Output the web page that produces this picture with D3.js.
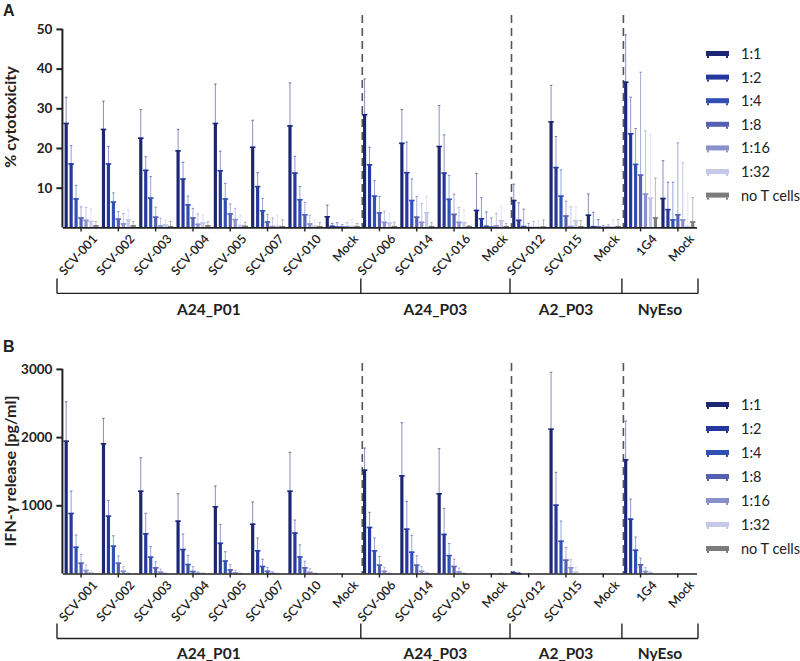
<!DOCTYPE html>
<html><head><meta charset="utf-8">
<script src="https://cdn.jsdelivr.net/npm/d3@7"></script>
<style>body{margin:0;background:#fff}svg{display:block}</style>
</head><body><svg id="c" width="800" height="661"></svg>
<script>
// ---------- data ----------
const categories = ["SCV-001","SCV-002","SCV-003","SCV-004","SCV-005","SCV-007","SCV-010","Mock_1",
  "SCV-006","SCV-014","SCV-016","Mock_2","SCV-012","SCV-015","Mock_3","1G4","Mock_4"];
const groupNames = ["A24_P01","A24_P03","A2_P03","NyEso"];
const groupSizes = [8,4,3,2];
const seriesNames = ["1:1","1:2","1:4","1:8","1:16","1:32","no T cells"];
const seriesColors = ["#1d2675","#26389e","#3150b4","#5560b2","#8a90cc","#c6c8e9","#7b7b7b"];
const cytoTicks = [10,20,30,40,50];
const ifnTicks = [1000,2000,3000];

// Panel A: % cytotoxicity (mean, SD) per series
const cyto_1_1  = [26.3,24.8,22.6,19.4,26.3,20.3,25.7,2.8,28.5,21.3,20.5,4.4,6.9,26.7,3.2,36.7,7.4];
const cyto_1_1_sd = [6.5,7.0,7.1,5.3,9.8,6.7,10.7,2.8,8.9,8.4,10.2,9.2,4.0,9.1,5.2,11.8,9.4];
const cyto_1_2  = [16.1,16.1,14.5,12.3,14.4,10.4,13.8,0.4,15.9,13.9,13.8,2.3,1.9,15.2,0.3,23.7,4.6];
const cyto_1_2_sd = [4.5,4.3,3.3,4.1,4.8,3.4,4.1,0.6,4.3,7.6,9.5,5.2,4.3,7.7,3.5,9.1,6.8];
const cyto_1_4  = [7.3,6.5,7.5,5.8,7.3,4.3,7.1,0.2,8.0,6.9,7.2,0.4,0.35,8.0,0.2,16.0,2.0];
const cyto_1_4_sd = [3.3,2.2,5.3,2.1,3.8,3.0,3.2,1.0,3.8,5.3,5.9,3.5,4.25,6.5,1.8,8.9,9.4];
const cyto_1_8  = [2.5,2.2,2.7,2.5,3.5,1.5,3.3,0.2,3.8,2.7,3.4,0.2,0.1,3.0,0.1,13.3,3.3];
const cyto_1_8_sd = [2.7,1.8,2.4,2.3,2.4,1.8,3.0,0.5,4.0,5.1,5.0,2.2,0.9,3.6,0.4,25.8,18.0];
const cyto_1_16 = [1.9,1.0,0.5,0.9,2.1,0.35,1.0,0.3,1.4,1.4,1.4,0.5,0.1,0.35,0.2,8.5,2.0];
const cyto_1_16_sd = [3.1,2.5,1.8,2.5,2.7,2.05,2.1,0.9,2.7,4.6,3.6,3.0,1.4,4.85,0.5,15.8,14.3];
const cyto_1_32 = [1.6,2.0,0.8,1.3,0.6,0.4,0.4,0.3,1.2,3.8,1.3,1.8,0.2,1.8,0.2,7.5,0.35];
const cyto_1_32_sd = [3.1,2.4,1.1,1.8,2.5,2.5,1.5,1.6,2.3,4.0,3.1,3.6,1.5,3.4,1.8,16.0,8.25];
const cyto_noT  = [0.5,0.5,0.3,0.5,0.4,0.3,0.3,0.3,0.3,0.3,0.3,0.3,0.2,0.3,0.3,2.5,1.5];
const cyto_noT_sd = [1.0,1.0,1.2,0.9,0.9,1.6,0.9,0.7,1.0,0.9,0.2,0.7,1.7,1.4,1.7,9.9,6.0];

// Panel B: IFN-γ release [pg/ml] (mean, SD) per series
const ifn_1_1  = [1947,1909,1214,775,985,730,1214,0,1522,1440,1176,0,15,2123,0,1674,0];
const ifn_1_1_sd = [572,367,484,395,298,320,563,0,318,771,654,0,15,827,0,562,0];
const ifn_1_2  = [887,848,589,359,450,340,600,0,682,657,580,0,5,1009,0,804,0];
const ifn_1_2_sd = [323,225,293,220,270,180,184,0,215,402,376,0,7,475,0,288,0];
const ifn_1_4  = [393,408,247,139,190,110,250,0,340,320,270,0,0,481,0,349,0];
const ifn_1_4_sd = [172,146,146,128,130,100,170,0,180,240,170,0,0,289,0,186,0];
const ifn_1_8  = [158,158,90,37,60,40,90,0,130,130,110,0,0,203,0,135,0];
const ifn_1_8_sd = [123,99,83,63,70,50,90,0,120,130,100,0,0,181,0,92,0];
const ifn_1_16 = [51,41,27,10,15,10,25,0,40,40,30,0,0,91,0,37,0];
const ifn_1_16_sd = [74,59,39,17,35,20,45,0,50,60,50,0,0,112,0,48,0];
const ifn_1_32 = [18,5,5,5,5,3,5,0,8,8,6,3,0,27,0,18,0];
const ifn_1_32_sd = [23,10,10,10,10,8,10,0,10,10,10,5,0,64,0,19,0];
const ifn_noT  = [0,0,0,0,0,0,0,0,0,0,0,0,0,0,0,0,0];
const ifn_noT_sd = [0,0,0,0,0,0,0,0,0,0,0,0,0,0,0,0,0];

const cytoMeans = [cyto_1_1,cyto_1_2,cyto_1_4,cyto_1_8,cyto_1_16,cyto_1_32,cyto_noT];
const cytoSDs = [cyto_1_1_sd,cyto_1_2_sd,cyto_1_4_sd,cyto_1_8_sd,cyto_1_16_sd,cyto_1_32_sd,cyto_noT_sd];
const ifnMeans = [ifn_1_1,ifn_1_2,ifn_1_4,ifn_1_8,ifn_1_16,ifn_1_32,ifn_noT];
const ifnSDs = [ifn_1_1_sd,ifn_1_2_sd,ifn_1_4_sd,ifn_1_8_sd,ifn_1_16_sd,ifn_1_32_sd,ifn_noT_sd];

// ---------- drawing ----------
const svg = d3.select("#c");
const FONT = "Lato, 'Open Sans', sans-serif";
const x = d3.scaleBand().domain(categories).range([62.4, 696.5]).padding(0);
const x1 = d3.scaleBand().domain(seriesNames).range([0, x.bandwidth()]).paddingInner(0.36).paddingOuter(0.44);

function panel(opt) {
  const g = svg.append("g");
  const y = d3.scaleLinear().domain(opt.domain).range([opt.y0, opt.y1]);
  const base = y(0);

  // dashed separators
  let cum = 0;
  groupSizes.slice(0, -1).forEach(n => {
    cum += n;
    const xx = x(categories[cum]) + 1.5;
    g.append("line").attr("x1", xx).attr("x2", xx).attr("y1", opt.dashTop).attr("y2", base)
      .attr("stroke", "#555").attr("stroke-width", 1.6).attr("stroke-dasharray", "8,5");
  });

  // bars
  seriesNames.forEach((s, si) => {
    const color = seriesColors[si];
    const sg = g.append("g");
    categories.forEach((c, ci) => {
      const m = opt.means[si][ci], sd = opt.sds[si][ci];
      const bx = x(c) + x1(s), bw = x1.bandwidth(), cx = bx + bw / 2;
      if (sd > 0) {
        sg.append("line").attr("x1", cx).attr("x2", cx).attr("y1", y(m)).attr("y2", y(m + sd))
          .attr("stroke", color).attr("stroke-opacity", 0.5).attr("stroke-width", 1);
        sg.append("line").attr("x1", cx - 1.3).attr("x2", cx + 1.3).attr("y1", y(m + sd)).attr("y2", y(m + sd))
          .attr("stroke", color).attr("stroke-opacity", 0.6).attr("stroke-width", 1);
      }
      if (m > 0) {
        sg.append("rect").attr("x", bx).attr("width", bw).attr("y", y(m)).attr("height", base - y(m))
          .attr("fill", color);
        sg.append("line").attr("x1", bx - 1.2).attr("x2", bx + bw + 1.2).attr("y1", y(m) + 0.5).attr("y2", y(m) + 0.5)
          .attr("stroke", color).attr("stroke-width", 1.6);
      }
    });
  });

  // y axis
  const ya = g.append("g").attr("transform", `translate(${x.range()[0]},0)`)
    .call(d3.axisLeft(y).tickValues(opt.ticks).tickFormat(d3.format("d")).tickSize(6).tickPadding(4).tickSizeOuter(0));
  ya.select(".domain").attr("stroke", "#222").attr("stroke-width", 2).attr("d", `M0,${base}V${opt.y1}`);
  ya.selectAll(".tick line").attr("stroke", "#222").attr("stroke-width", 2);
  ya.selectAll(".tick text").attr("font-family", FONT).attr("font-weight", "bold").attr("font-size", 13.5).attr("fill", "#222");

  // x axis
  const xa = g.append("g").attr("transform", `translate(0,${base})`)
    .call(d3.axisBottom(x).tickSize(4).tickSizeOuter(0).tickFormat(d => d.replace(/_\d+$/, "")));
  xa.select(".domain").attr("stroke", "#222").attr("stroke-width", 1.6);
  xa.selectAll(".tick line").attr("stroke", "#222").attr("stroke-width", 1.4);
  xa.selectAll(".tick text").attr("font-family", FONT).attr("font-size", 12.5).attr("font-weight", 600).attr("fill", "#222")
    .attr("text-anchor", "end").attr("dy", null).attr("y", 0)
    .attr("transform", "translate(17,12) rotate(-48)");

  // group brackets
  const bTop = base + opt.brTop, bY = base + opt.brY;
  const bx0 = 57, bx1 = 698;
  let edges = [bx0]; cum = 0;
  groupSizes.slice(0, -1).forEach(n => { cum += n; edges.push(x(categories[cum])); });
  edges.push(bx1);
  g.append("line").attr("x1", bx0).attr("x2", bx1).attr("y1", bY).attr("y2", bY).attr("stroke", "#222").attr("stroke-width", 1.4);
  edges.forEach(e => g.append("line").attr("x1", e).attr("x2", e).attr("y1", bTop).attr("y2", bY)
    .attr("stroke", "#222").attr("stroke-width", 1.4));
  groupNames.forEach((n, i) => {
    g.append("text").attr("x", (edges[i] + edges[i + 1]) / 2).attr("y", base + opt.grLab)
      .attr("text-anchor", "middle").attr("font-family", FONT).attr("font-weight", "bold")
      .attr("font-size", 15.5).attr("fill", "#222").text(n);
  });

  // y label
  g.append("text").attr("transform", `translate(${opt.ylabX},${opt.ylabY}) rotate(-90)`)
    .attr("text-anchor", "middle").attr("font-family", FONT).attr("font-weight", "bold")
    .attr("font-size", 16).attr("fill", "#222").text(opt.ylabel);

  // panel letter
  g.append("text").attr("x", 3).attr("y", opt.letterY).attr("font-family", "'Liberation Sans', Arial, sans-serif")
    .attr("font-weight", "bold").attr("font-size", 16).attr("fill", "#222").text(opt.letter);

  // legend
  seriesNames.forEach((s, si) => {
    const ly = opt.legY + si * opt.legStep;
    g.append("rect").attr("x", 706).attr("y", ly - 3).attr("width", 23).attr("height", 5).attr("fill", seriesColors[si]);
    g.append("rect").attr("x", 707).attr("y", ly + 2).attr("width", 2).attr("height", 2).attr("fill", seriesColors[si]);
    g.append("rect").attr("x", 726).attr("y", ly + 2).attr("width", 2).attr("height", 2).attr("fill", seriesColors[si]);
    g.append("text").attr("x", 741).attr("y", ly + 5).attr("font-family", FONT).attr("font-size", 14.5)
      .attr("fill", "#222").text(s);
  });
}

panel({domain:[0,50], y0:227.4, y1:28.9, ticks:cytoTicks, means:cytoMeans, sds:cytoSDs, dashTop:15,
  brTop:51, brY:66, grLab:88,
  ylabel:"% cytotoxicity", ylabX:16, ylabY:117, letter:"A", letterY:16, legY:54, legStep:23.6});
panel({domain:[0,3000], y0:573.5, y1:368.9, ticks:ifnTicks, means:ifnMeans, sds:ifnSDs, dashTop:363,
  brTop:50, brY:65, grLab:85.5,
  ylabel:"IFN-γ release [pg/ml]", ylabX:16, ylabY:471, letter:"B", letterY:352, legY:405, legStep:24});
</script></body></html>
